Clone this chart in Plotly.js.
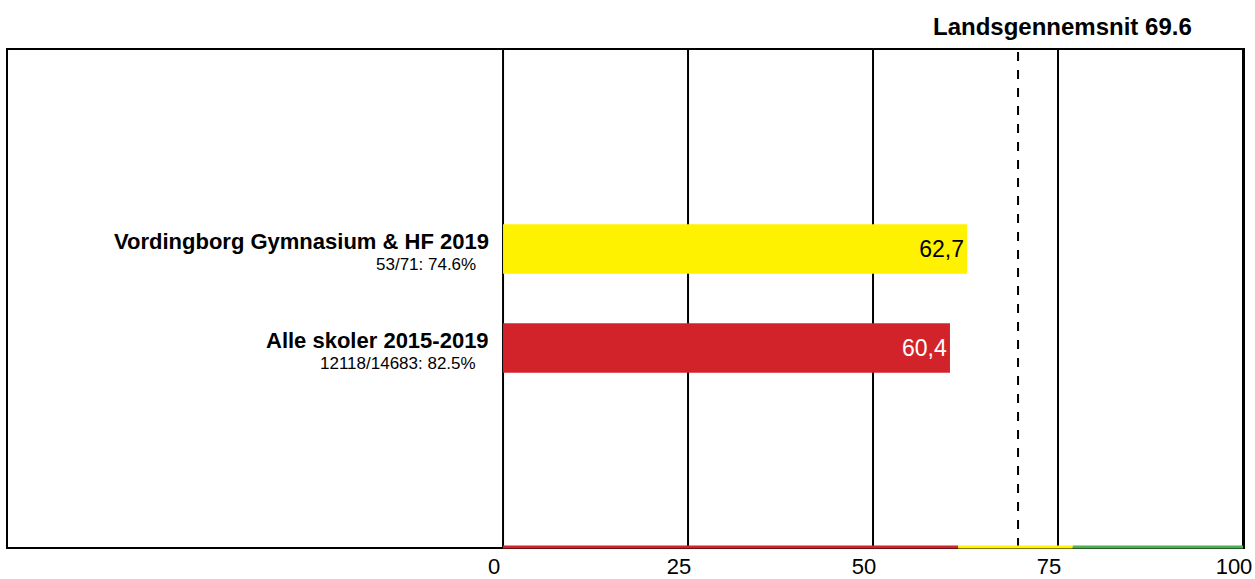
<!DOCTYPE html>
<html>
<head>
<meta charset="utf-8">
<script src="https://cdn.plot.ly/plotly-3.0.1.min.js"></script>
<style>html,body{margin:0;padding:0;background:#fff;}#chart{width:1255px;height:579px;}</style>
</head>
<body>
<div id="chart"></div>
<script>
// Data
const categories = ["Alle skoler 2015-2019", "Vordingborg Gymnasium & HF 2019"];
const subLabels = ["12118/14683: 82.5%", "53/71: 74.6%"];
const values = [60.4, 62.7];
const barColors = ["#d2232a", "#fff200"];
const textColors = ["#ffffff", "#000000"];
const nationalAverage = 69.6;
const bandStops = [0, 61.5, 77, 100];
const bandColors = ["#d2232a", "#fff200", "#4caf50"];
const tickVals = [0, 25, 50, 75, 100];

const FONT = "Liberation Sans, Arial, sans-serif";

const trace = {
  type: "bar",
  orientation: "h",
  y: categories,
  x: values,
  width: 0.5,
  marker: {color: barColors, line: {width: 0}},
  texttemplate: "%{x:.1f}",
  textposition: "inside",
  insidetextanchor: "end",
  textfont: {family: FONT, size: 23, color: textColors},
  hoverinfo: "none",
  cliponaxis: false
};

const shapes = [];
tickVals.forEach(v => {
  shapes.push({type: "line", xref: "x", yref: "paper", x0: v, x1: v, y0: 0, y1: 1,
    line: {color: "#000", width: 2}, layer: "below"});
});
shapes.push({type: "line", xref: "x", yref: "paper", x0: nationalAverage, x1: nationalAverage, y0: 0, y1: 1,
  line: {color: "#000", width: 2, dash: "dash"}, layer: "above"});
for (let i = 0; i < bandColors.length; i++) {
  shapes.push({type: "line", xref: "x", yref: "paper", x0: bandStops[i], x1: bandStops[i + 1], y0: 0, y1: 0,
    line: {color: bandColors[i], width: 3}, layer: "above"});
}

const annotations = [];
categories.forEach((c, i) => {
  annotations.push({xref: "x", yref: "y", x: 0, y: c, xanchor: "right", yanchor: "middle",
    xshift: -12, yshift: 8, showarrow: false, text: "<b>" + c + "</b>",
    font: {family: FONT, size: 22, color: "#000"}});
  annotations.push({xref: "x", yref: "y", x: 0, y: c, xanchor: "right", yanchor: "middle",
    xshift: -25, yshift: -15, showarrow: false, text: subLabels[i],
    font: {family: FONT, size: 17, color: "#000"}});
});
annotations.push({xref: "x", yref: "paper", x: nationalAverage, y: 1, xanchor: "center", yanchor: "middle",
  xshift: 44, yshift: 24, showarrow: false, text: "<b>Landsgennemsnit " + nationalAverage.toFixed(1) + "</b>",
  font: {family: FONT, size: 24, color: "#000"}});

const layout = {
  width: 1255, height: 579,
  margin: {l: 8, r: 12, t: 50, b: 32, pad: 0},
  paper_bgcolor: "#fff", plot_bgcolor: "#fff",
  separators: ",.",
  showlegend: false,
  font: {family: FONT, color: "#000"},
  xaxis: {
    range: [-66.9, 100],
    tickvals: tickVals,
    ticktext: tickVals.map(String),
    showgrid: false, zeroline: false,
    showline: true, mirror: true, linecolor: "#000", linewidth: 2,
    ticks: "", tickfont: {family: FONT, size: 22, color: "#000"},
    ticklabelshift: -9,
    ticklabelstandoff: -1,
    fixedrange: true
  },
  yaxis: {
    type: "category",
    categoryarray: categories,
    range: [-2.01, 3.01],
    showticklabels: false, showgrid: false, zeroline: false,
    showline: true, mirror: true, linecolor: "#000", linewidth: 2,
    ticks: "", fixedrange: true
  },
  shapes: shapes,
  annotations: annotations,
  bargap: 0.5
};

Plotly.newPlot("chart", [trace], layout, {displayModeBar: false, staticPlot: true});
</script>
</body>
</html>
